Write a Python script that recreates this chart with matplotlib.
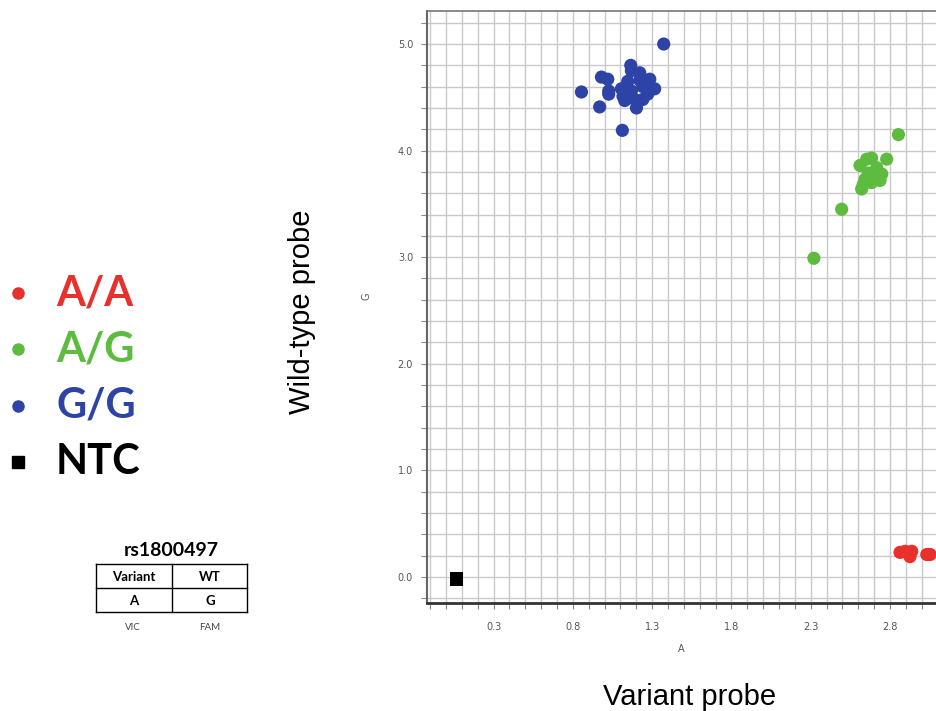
import numpy as np
import matplotlib.pyplot as plt
from matplotlib.ticker import MultipleLocator, FixedLocator
from matplotlib.lines import Line2D

# genotype clusters (A = variant probe, G = wild-type probe)
blue_x = [1.373, 0.854, 0.980, 1.020, 1.026, 1.026, 0.969, 1.112, 1.165, 1.169, 1.222, 1.285,
          1.316, 1.116, 1.127, 1.201, 1.241, 1.146, 1.169, 1.241, 1.272, 1.222, 1.106, 1.190]
blue_y = [5.00, 4.55, 4.69, 4.67, 4.56, 4.53, 4.41, 4.19, 4.80, 4.75, 4.73, 4.67,
          4.58, 4.51, 4.47, 4.40, 4.48, 4.65, 4.56, 4.60, 4.53, 4.66, 4.58, 4.48]
green_x = [2.853, 2.495, 2.621, 2.631, 2.653, 2.684, 2.779, 2.716, 2.611, 2.663, 2.716,
           2.684, 2.748, 2.737, 2.642, 2.320]
green_y = [4.15, 3.45, 3.64, 3.68, 3.92, 3.93, 3.92, 3.84, 3.86, 3.79, 3.75,
           3.70, 3.78, 3.72, 3.73, 2.99]
red_x = [2.863, 2.895, 2.926, 2.937, 3.032, 3.053]
red_y = [0.23, 0.24, 0.19, 0.24, 0.21, 0.21]
ntc_x = [0.066]
ntc_y = [-0.02]

x_ticks = [0.3, 0.8, 1.3, 1.8, 2.3, 2.8]
y_ticks = [0.0, 1.0, 2.0, 3.0, 4.0, 5.0]

legend_labels = ['A/A', 'A/G', 'G/G', 'NTC']
legend_colors = ['#e8302c', '#5dbb3f', '#2d44a6', '#000000']

W, H = 936, 711
fig = plt.figure(figsize=(W / 100, H / 100), dpi=100)

def fx(px):
    return px / W

def fy(py):
    return 1 - py / H

ax = fig.add_axes([fx(427), fy(603), 1 - fx(427), fy(11) - fy(603)])
ax.set_xlim(-0.12, 3.09)
ax.set_ylim(-0.245, 5.31)

ax.scatter(blue_x, blue_y, s=90, color=legend_colors[2], edgecolors='none', zorder=3)
ax.scatter(green_x, green_y, s=90, color=legend_colors[1], edgecolors='none', zorder=3)
ax.scatter(red_x, red_y, s=90, color=legend_colors[0], edgecolors='none', zorder=3, clip_on=False)
ax.scatter(ntc_x, ntc_y, s=100, marker='s', color='black', edgecolors='none', zorder=3)

ax.xaxis.set_major_locator(FixedLocator(x_ticks))
ax.xaxis.set_minor_locator(MultipleLocator(0.1))
ax.yaxis.set_major_locator(FixedLocator(y_ticks))
ax.yaxis.set_minor_locator(MultipleLocator(0.2))
ax.set_xticklabels([f'{v:.1f}' for v in x_ticks])
ax.set_yticklabels([f'{v:.1f}' for v in y_ticks])
ax.grid(True, which='both', color='#c9c9c9', linewidth=1.0, zorder=0)
ax.set_axisbelow(True)

ax.tick_params(which='both', direction='out', length=4, width=0.8, color='#888888',
               labelsize=7, labelcolor='#555555', pad=6)
ax.tick_params(axis='x', which='both', pad=10)

for s in ['right']:
    ax.spines[s].set_visible(False)
ax.spines['bottom'].set_linewidth(2.0)
ax.spines['bottom'].set_color('#333333')
ax.spines['left'].set_linewidth(1.5)
ax.spines['left'].set_color('#666666')
ax.spines['top'].set_linewidth(1.2)
ax.spines['top'].set_color('#777777')

ax.set_xlabel('A', fontsize=7, color='#555555', labelpad=8)
fig.text(fx(366), fy(296), 'G', fontsize=7, color='#555555', rotation=90, ha='center', va='center')

fig.text(fx(302), fy(312), 'Wild-type probe', fontsize=21, family='Liberation Sans',
         rotation=90, ha='center', va='center')
fig.text(fx(690), fy(697), 'Variant probe', fontsize=21, family='Liberation Sans',
         ha='center', va='center')

# legend on the left
rows = [293, 349, 406, 462]
for lab, col, py in zip(legend_labels, legend_colors, rows):
    mk = 's' if lab == 'NTC' else 'o'
    ms = 8 if lab == 'NTC' else 8
    fig.add_artist(Line2D([fx(18)], [fy(py)], marker=mk, markersize=ms, color=col,
                          linestyle='none'))
    fig.text(fx(56), fy(py), lab, fontsize=30, fontweight='bold', family='Lato',
             color=col, ha='left', va='center')

# probe table
fig.text(fx(171), fy(551), 'rs1800497', fontsize=14, fontweight='bold', family='Lato',
         ha='center', va='center')
lw = 1.0
for y0 in [564, 588, 612]:
    fig.add_artist(Line2D([fx(96), fx(247)], [fy(y0), fy(y0)], color='black', linewidth=lw))
for x0 in [96, 172, 247]:
    fig.add_artist(Line2D([fx(x0), fx(x0)], [fy(564), fy(612)], color='black', linewidth=lw))
cells = [('Variant', 134, 577), ('WT', 210, 577), ('A', 134, 601), ('G', 210, 601)]
for t, px, py in cells:
    fig.text(fx(px), fy(py), t, fontsize=9.5, fontweight='bold', family='Lato',
             ha='center', va='center')
fig.text(fx(133), fy(628), 'VIC', fontsize=7, family='Lato', color='#444444', ha='center', va='center')
fig.text(fx(210), fy(628), 'FAM', fontsize=7, family='Lato', color='#444444', ha='center', va='center')

fig.savefig('out.png', dpi=100)
